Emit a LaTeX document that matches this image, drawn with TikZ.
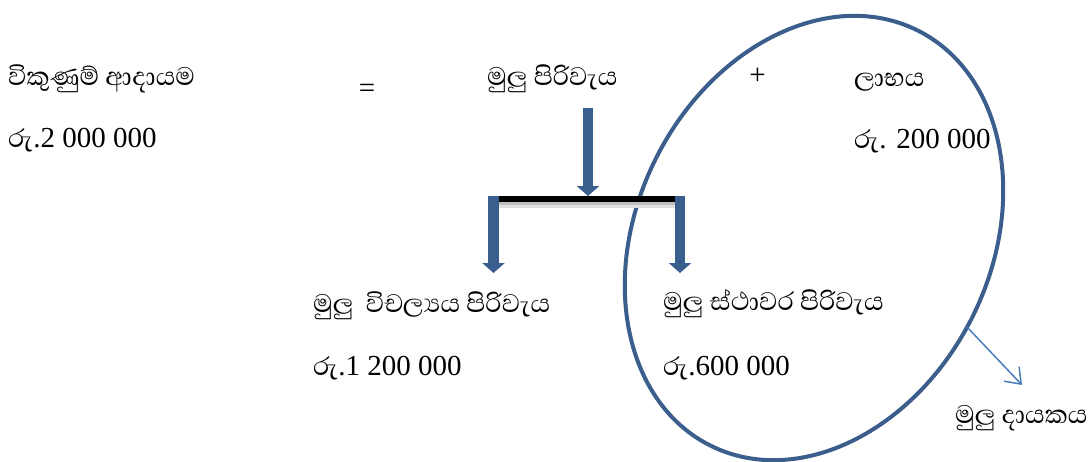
\documentclass[tikz,border=0pt]{standalone}
\usepackage{fontspec}
\setmainfont{Liberation Serif}
\newfontfamily\sinhfont[Script=Sinhala,Scale=1.12]{Abhaya Libre}
\newcommand\sinhtxt[1]{{\sinhfont #1}}
\usetikzlibrary{arrows.meta,shapes.geometric}
\definecolor{ovalblue}{HTML}{3B5E8C}
\definecolor{arrowblue}{HTML}{3A5F8F}
\definecolor{thinblue}{HTML}{4A7EBB}
\begin{document}
\begin{tikzpicture}[x=1pt,y=-1pt,
  lbl/.style={anchor=base west, inner sep=0pt, font=\fontsize{29}{34}\selectfont},
  sym/.style={anchor=base, inner sep=0pt, font=\fontsize{29}{34}\selectfont},
  blockarrow/.style={draw=arrowblue, line width=10.5pt, -{Triangle[width=22pt,length=10pt]}},
  thinarrow/.style={draw=thinblue, line width=1.5pt, -{Straight Barb[length=14pt,width=21pt]}},
  oval/.style={ellipse, draw=ovalblue, line width=4pt, inner sep=0pt, minimum width=464pt, minimum height=354pt}]
\useasboundingbox (0,0) rectangle (1088,461);
% texts
\node[lbl] (sales) at (8,85) {\sinhtxt{විකුණුම් ආදායම}};
\node[lbl] (salesv) at (8,147) {\sinhtxt{රු}.2 000 000};
\node[sym] (eq) at (367,97) {=};
\node[lbl] (tc) at (487,85) {\sinhtxt{මුලු පිරිවැය}};
\node[sym] (plus) at (757.5,84) {+};
\node[lbl] (profit) at (854,86) {\sinhtxt{ලාභය}};
\node[lbl] (profitv) at (854,148) {\sinhtxt{රු}. 200 000};
\node[lbl] (tvc) at (313,312) {\sinhtxt{මුලු\ \ විචල්^^^^200dයය පිරිවැය}};
\node[lbl] (tvcv) at (313,375) {\sinhtxt{රු}.1 200 000};
\node[lbl] (tfc) at (663,310) {\sinhtxt{මුලු ස්ථාවර පිරිවැය}};
\node[lbl] (tfcv) at (663,375) {\sinhtxt{රු}.600 000};
\node[lbl] (contrib) at (955,423) {\sinhtxt{මුලු දායකය}};
% oval
\node[oval, rotate=63.5] (ring) at (814,238) {};
% bar with shadow
\coordinate (barL) at (489,199);
\coordinate (barR) at (675,199);
\draw[line width=4pt, black!12] (491,206) -- (677,206);
\draw[line width=4pt, black!25] (491,203) -- (677,203);
\draw[line width=6pt] (barL) -- (barR);
% block arrows
\coordinate (topS) at (588,108);
\coordinate (topE) at (588,196);
\coordinate (leftS) at (493.5,196);
\coordinate (leftE) at (493.5,273);
\coordinate (rightS) at (680,196);
\coordinate (rightE) at (680,273);
\draw[blockarrow] (topS) -- (topE);
\draw[blockarrow] (leftS) -- (leftE);
\draw[blockarrow] (rightS) -- (rightE);
% thin arrow
\coordinate (cS) at (967,327);
\coordinate (cE) at (1022,385);
\draw[thinarrow] (cS) -- (cE);
\end{tikzpicture}
\end{document}
